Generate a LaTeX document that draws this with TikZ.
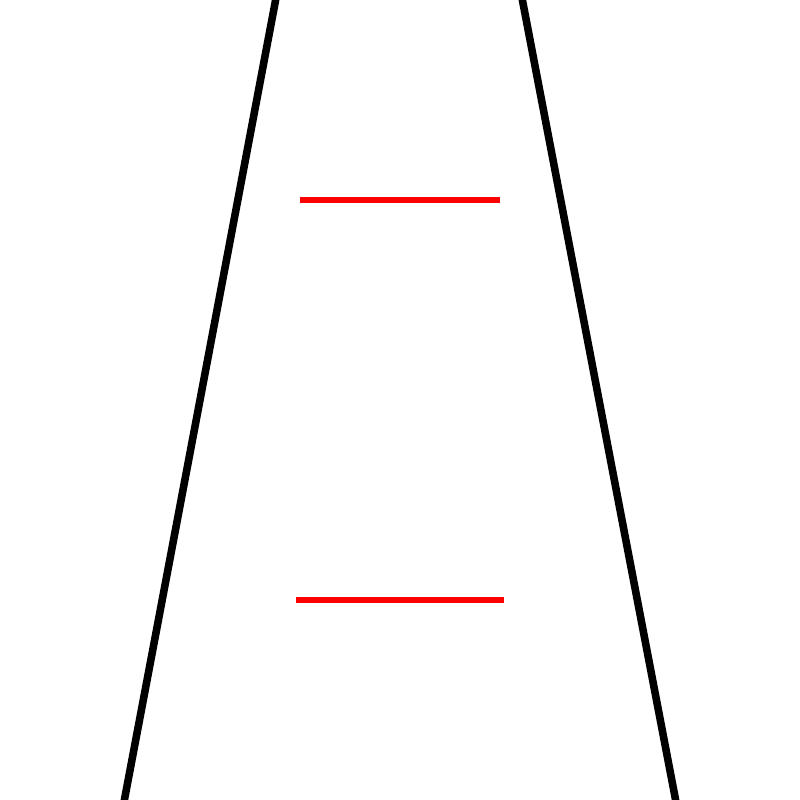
\documentclass[tikz,border=0pt]{standalone}
\begin{document}
\begin{tikzpicture}[x=0.01cm,y=-0.01cm,
  rail/.style={draw=black,line width=2.15pt},
  rung/.style={draw=red,line width=1.7pt}]
\useasboundingbox[fill=white] (0,0) rectangle (800,800);
\begin{scope}
\clip (0,0) rectangle (800,800);
\coordinate (lt) at (276,-2);
\coordinate (lb) at (124,802);
\coordinate (rt) at (522,-2);
\coordinate (rb) at (676,802);
\draw[rail] (lt) -- (lb);
\draw[rail] (rt) -- (rb);
\end{scope}
\coordinate (a1) at (300,200);
\coordinate (a2) at (500,200);
\coordinate (b1) at (296,600);
\coordinate (b2) at (504,600);
\draw[rung] (a1) -- (a2);
\draw[rung] (b1) -- (b2);
\end{tikzpicture}
\end{document}
